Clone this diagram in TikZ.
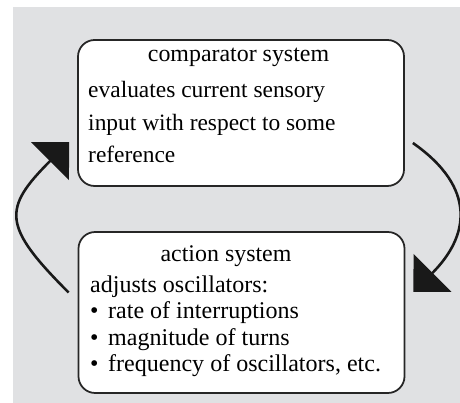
\documentclass[tikz,border=0pt]{standalone}
\usepackage{fontspec}
\setmainfont{Liberation Serif}
\usetikzlibrary{arrows.meta}
\definecolor{panel}{RGB}{224,225,227}
\definecolor{boxline}{RGB}{38,38,38}
\definecolor{arrowink}{RGB}{25,25,25}
\newcommand{\listdot}{\textbullet\hspace{0.4em}}

\begin{document}
\begin{tikzpicture}[x=0.03cm,y=0.03cm,
    sysbox/.style={draw=boxline,line width=1.5pt,fill=white,rounded corners=0.5cm,minimum width=9.78cm},
    headtext/.style={font=\fontsize{20.4}{24}\selectfont,anchor=base,inner sep=0pt},
    bodytext/.style={anchor=base west,align=left,inner sep=0pt},
    cyclearrow/.style={draw=arrowink,line width=2.2pt,-{Triangle[length=0.81cm,width=1.59cm]}}]
         \useasboundingbox (0,0) rectangle (460,403);
         \fill[panel] (13,0) rectangle (460,396);
         \node[sysbox,minimum height=4.38cm] (cmp) at (241,290) {};
         \node[sysbox,minimum height=4.83cm] (act) at (241.5,90.5) {};
         \node[headtext] (cmphead) at (238.5,341) {comparator system};
         \node[bodytext,font=\fontsize{20}{28}\selectfont] (cmpbody) at (88,240)
            {evaluates current sensory\\input with respect to some\\reference};
         \node[headtext] (acthead) at (226,141) {action system};
         \node[bodytext,font=\fontsize{20.5}{22.7}\selectfont] (actbody) at (90,31)
            {adjusts oscillators:\\\listdot rate of interruptions\\\listdot magnitude of turns\\\listdot frequency of oscillators, etc.};
         \draw[cyclearrow] ([shift={(-9,20)}]act.west)
            to[out=135,in=225,looseness=1.6] ([shift={(-8,-29)}]cmp.west);
         \draw[cyclearrow] ([shift={(8,-30)}]cmp.east)
            to[out=-35,in=45,looseness=1.35] ([shift={(8,20.5)}]act.east);
      \end{tikzpicture}
\end{document}
